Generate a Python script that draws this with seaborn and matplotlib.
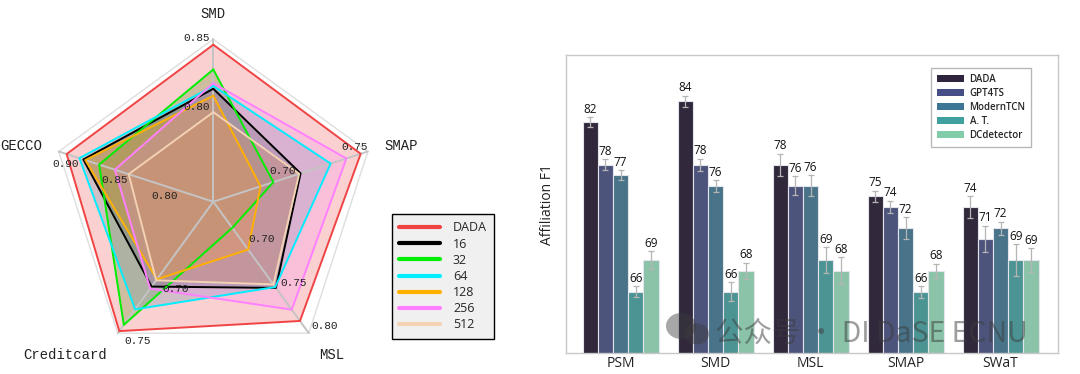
import numpy as np
import pandas as pd
import matplotlib
matplotlib.use("Agg")
import matplotlib.pyplot as plt
from matplotlib.lines import Line2D
from matplotlib.patches import Patch, Ellipse
import seaborn as sns

# ---------------- radar data ----------------
radar_axes = ["SMD", "SMAP", "MSL", "Creditcard", "GECCO"]
radar_lo = [0.732, 0.642, 0.649, 0.623, 0.743]
radar_hi = [0.85, 0.75, 0.80, 0.75, 0.90]
radar_ticks = [[0.80, 0.85], [0.70, 0.75], [0.70, 0.75, 0.80], [0.70, 0.75], [0.80, 0.85, 0.90]]
radar_series = ["DADA", "16", "32", "64", "128", "256", "512"]
radar_dada = [0.846, 0.745, 0.786, 0.748, 0.892]
radar_16 = [0.814, 0.703, 0.748, 0.705, 0.875]
radar_32 = [0.828, 0.684, 0.679, 0.742, 0.859]
radar_64 = [0.816, 0.724, 0.747, 0.727, 0.879]
radar_128 = [0.809, 0.675, 0.704, 0.698, 0.873]
radar_256 = [0.818, 0.735, 0.773, 0.707, 0.843]
radar_512 = [0.797, 0.702, 0.744, 0.699, 0.829]
radar_colors = ["#f04444", "#000000", "#00ee00", "#00eeff", "#ffb000", "#ff80ff", "#f3d2b3"]
radar_fill_colors = ["#f04444", "#000000", "#4a8a10", "#5090b0", "#ffa000", "#ff80ff", "#d89060"]
radar_fill_alpha = [0.25, 0.2, 0.25, 0.25, 0.3, 0.2, 0.3]

# ---------------- bar data ----------------
bar_datasets = ["PSM", "SMD", "MSL", "SMAP", "SWaT"]
bar_methods = ["DADA", "GPT4TS", "ModernTCN", "A. T.", "DCdetector"]
f1_dada = [82, 84, 78, 75, 74]
f1_gpt4ts = [78, 78, 76, 74, 71]
f1_moderntcn = [77, 76, 76, 72, 72]
f1_at = [66, 66, 69, 66, 69]
f1_dcdetector = [69, 68, 68, 68, 69]
err_dada = [0.47, 0.52, 1.05, 0.55, 1.04]
err_gpt4ts = [0.50, 0.58, 0.90, 0.60, 1.23]
err_moderntcn = [0.47, 0.55, 0.98, 1.02, 0.63]
err_at = [0.53, 0.91, 1.20, 0.55, 1.50]
err_dcdetector = [0.82, 0.76, 1.26, 0.66, 1.10]
bar_colors = ["#30253f", "#454e84", "#3d7694", "#40a09f", "#82cca9"]

sns.set_style("white")
plt.rcParams["font.family"] = ["Open Sans", "DejaVu Sans"]

W, H = 1080, 374
fig = plt.figure(figsize=(W / 100, H / 100), dpi=100)

# ================= radar =================
cx, cy, R = 213.3, 201.7, 162.5   # pixel geometry of the radar
ax_r = fig.add_axes([0, 0, 440 / W, 1])
ax_r.set_xlim(-cx / R, (440 - cx) / R)
ax_r.set_ylim(-(H - cy) / R, cy / R)
ax_r.axis("off")

n = len(radar_axes)
ang = np.deg2rad(90 - 72 * np.arange(n))
ux, uy = np.cos(ang), np.sin(ang)

def radial(i, v):
    return (v - radar_lo[i]) / (radar_hi[i] - radar_lo[i])

# outer ring
ax_r.plot(np.append(ux, ux[0]), np.append(uy, uy[0]), color="#dedede", lw=1, zorder=1)

series_vals = [radar_dada, radar_16, radar_32, radar_64, radar_128, radar_256, radar_512]
for vals, fc, fa in zip(series_vals, radar_fill_colors, radar_fill_alpha):
    r = np.array([radial(i, v) for i, v in enumerate(vals)])
    ax_r.fill(r * ux, r * uy, color=fc, alpha=fa, lw=0, zorder=2)
for k, (vals, col) in enumerate(zip(series_vals, radar_colors)):
    r = np.array([radial(i, v) for i, v in enumerate(vals)])
    xs, ys = r * ux, r * uy
    ax_r.plot(np.append(xs, xs[0]), np.append(ys, ys[0]), color=col, lw=1.4, zorder=4 + k * 0.01)

# spokes
for i in range(n):
    ax_r.plot([0, ux[i]], [0, uy[i]], color="#c4c4c4", lw=1.4, zorder=3.5)

# axis names
name_align = [("center", "bottom"), ("left", "center"), ("left", "top"), ("right", "top"), ("right", "center")]
for i, name in enumerate(radar_axes):
    ha, va = name_align[i]
    ax_r.text(1.11 * ux[i], 1.11 * uy[i], name, ha=ha, va=va, fontsize=10,
              family="Liberation Mono", color="#222222")

# tick labels per axis (offset perpendicular to axis)
tick_style = [
    ("right", "center", (-3, 1)),
    ("right", "center", (0, 4)),
    ("left", "center", (3, 7)),
    ("left", "center", (7, -8)),
    ("center", "center", (7, -13)),
]
for i, ticks in enumerate(radar_ticks):
    ha, va, off = tick_style[i]
    for t in ticks:
        rr = radial(i, t)
        ax_r.annotate(f"{t:.2f}", (rr * ux[i], rr * uy[i]), xytext=off, textcoords="offset pixels",
                      ha=ha, va=va, fontsize=8, family="Liberation Mono", color="#222222", zorder=6)

# radar legend
handles = [Line2D([0], [0], color=c, lw=3) for c in radar_colors]
leg = fig.legend(handles, radar_series, loc="upper left", bbox_to_anchor=(391.7 / W, 1 - 214 / H),
                 borderaxespad=0, fancybox=False, edgecolor="black", facecolor="#f0f0f0", framealpha=1,
                 fontsize=9, handlelength=3.3, handletextpad=1.0, labelspacing=0.25, borderpad=0.6)
leg.get_frame().set_linewidth(1.0)

# ================= bars =================
ax_b = fig.add_axes([566 / W, (H - 353.3) / H, 492.3 / W, 298.3 / H])
rows = []
f1_all = [f1_dada, f1_gpt4ts, f1_moderntcn, f1_at, f1_dcdetector]
err_all = [err_dada, err_gpt4ts, err_moderntcn, err_at, err_dcdetector]
for m, vals in zip(bar_methods, f1_all):
    for d, v in zip(bar_datasets, vals):
        rows.append({"dataset": d, "method": m, "f1": v})
df = pd.DataFrame(rows)

sns.barplot(data=df, x="dataset", y="f1", hue="method", order=bar_datasets, hue_order=bar_methods,
            palette=bar_colors, errorbar=None, width=0.8, edgecolor="#e4e4ec", linewidth=0.8,
            legend=False, ax=ax_b)

for cont, vals, errs in zip(ax_b.containers, f1_all, err_all):
    xc = [p.get_x() + p.get_width() / 2 for p in cont.patches]
    ax_b.errorbar(xc, vals, yerr=errs, fmt="none", ecolor="#b5b5b5", elinewidth=0.9,
                  capsize=2.5, capthick=0.9, zorder=5)
    for x, v, e in zip(xc, vals, errs):
        ax_b.annotate(f"{v}", (x, v + e), xytext=(0, 1.0), textcoords="offset points",
                      ha="center", va="bottom", fontsize=8.5, color="#111111")

ax_b.set_ylim(60.2, 88.35)
ax_b.set_xlim(-0.574, 4.608)
ax_b.set_yticks([])
ax_b.set_xlabel("")
ax_b.set_ylabel("Affiliation F1", fontsize=10, labelpad=8, color="#222222")
ax_b.tick_params(axis="x", length=0, pad=2, labelsize=10, labelcolor="#222222")
for s in ax_b.spines.values():
    s.set_visible(True)
    s.set_color("#c8c8c8")
    s.set_linewidth(1.0)

bh = [Patch(facecolor=c, edgecolor="none") for c in bar_colors]
lb = ax_b.legend(bh, bar_methods, loc="upper left", bbox_to_anchor=(930.7 / W, 1 - 68.3 / H),
                 bbox_transform=fig.transFigure, borderaxespad=0, fancybox=False, edgecolor="#b8b8b8",
                 facecolor="white", framealpha=1, prop={"size": 7, "weight": "semibold"},
                 handlelength=2.8, handleheight=0.75, handletextpad=0.6, labelspacing=0.3, borderpad=0.6)
lb.get_frame().set_linewidth(1.0)

# watermark (icon + text)
for (ex, ey, ew, eh) in [(681, 326, 30, 26), (697, 334, 24, 21)]:
    fig.add_artist(Ellipse((ex / W, 1 - ey / H), ew / W, eh / H, transform=fig.transFigure,
                           facecolor="#3c3c3c", edgecolor="none", alpha=0.45, zorder=10))
fig.text(715 / W, 1 - 341.7 / H, "公众号 · DI DaSE ECNU", fontsize=20.5, color="#3c3c3c", alpha=0.5,
         family=["Noto Sans CJK SC", "DejaVu Sans"], ha="left", va="baseline", zorder=11)

fig.savefig("out.png", dpi=100)
